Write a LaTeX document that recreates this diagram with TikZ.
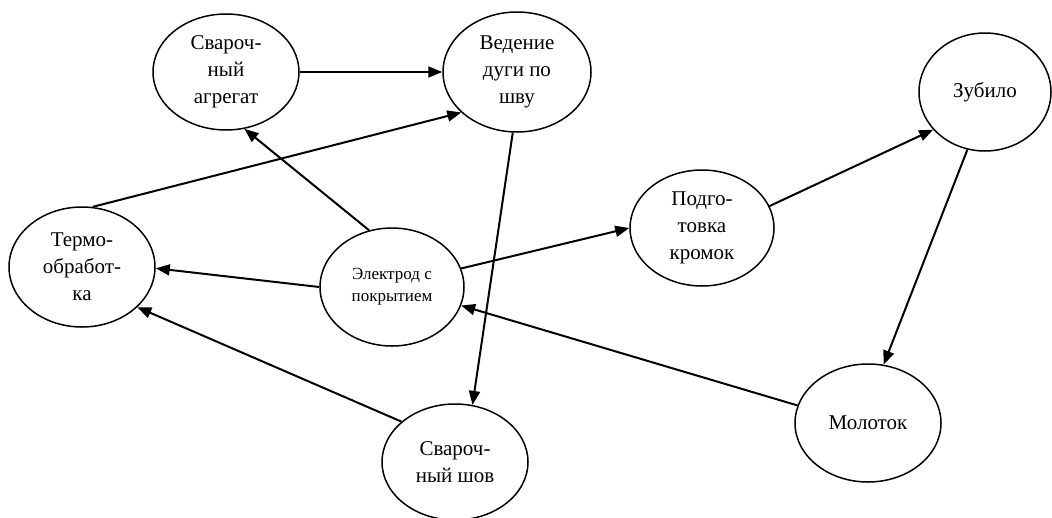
\documentclass[tikz,border=0pt]{standalone}
\usepackage{fontspec}
\setmainfont{Liberation Serif}
\usetikzlibrary{shapes.geometric,arrows.meta}
\tikzset{
  oval/.style={ellipse,draw,line width=1.5pt,inner sep=0pt,align=center,
    font=\fontsize{21}{27}\selectfont},
  smalloval/.style={oval,font=\fontsize{17}{22}\selectfont},
  link/.style={line width=2pt,-{Triangle[length=14pt,width=11pt]}}
}
\begin{document}
\begin{tikzpicture}[x=1pt,y=-1pt]
\useasboundingbox (0,0) rectangle (1052,517);
\node[oval,minimum width=146pt,minimum height=116pt] (agr) at (226,72) {Свароч-\\ный\\агрегат};
\node[oval,minimum width=148pt,minimum height=120pt] (ved) at (517,72) {Ведение\\дуги по\\шву};
\node[oval,minimum width=132pt,minimum height=118pt] (zub) at (985,92) {Зубило};
\node[oval,minimum width=144pt,minimum height=116pt] (podg) at (702,228) {Подго-\\товка\\кромок};
\node[oval,minimum width=146pt,minimum height=118pt] (mol) at (868,423) {Молоток};
\node[oval,minimum width=146pt,minimum height=120pt] (therm) at (82,267) {Термо-\\обработ-\\ка};
\node[smalloval,minimum width=144pt,minimum height=118pt] (elec) at (392,287) {Электрод с\\покрытием};
\node[oval,minimum width=146pt,minimum height=116pt] (shov) at (455,462) {Свароч-\\ный шов};

\draw[link] (agr.east) -- (ved.west);
\draw[link] (therm.80) -- (ved.216);
\draw[link] (elec.112) -- (agr.288);
\draw[link] (elec.west) -- (therm.-1);
\draw[link] (elec.15) -- (podg.west);
\draw[link] (podg.18) -- (zub.216);
\draw[link] (zub.253) -- (mol.75);
\draw[link] (mol.166) -- (elec.-15);
\draw[link] (ved.266) -- (shov.73);
\draw[link] (shov.143) -- (therm.-36);
\end{tikzpicture}
\end{document}
